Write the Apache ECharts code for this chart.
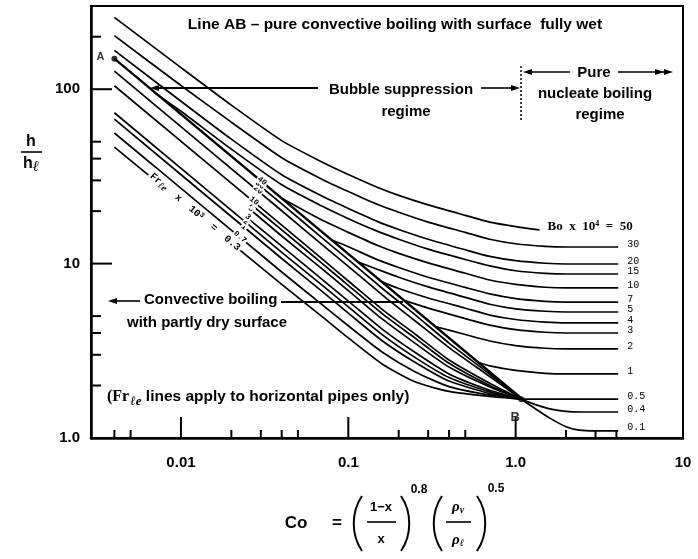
<!DOCTYPE html>
<html>
<head>
<meta charset="utf-8">
<script src="https://cdn.jsdelivr.net/npm/echarts@6/dist/echarts.min.js"></script>
<style>
html, body { margin: 0; padding: 0; background: #fff; }
#box { width: 698px; height: 559px; }
</style>
</head>
<body>
<div id="box"></div>
<script>
// ---- data: [Co, h/hl] ----
var lineAB = [[0.004, 149.6], [1.08, 1.69]];
var pointAB = [[0.004, 149.6], [1.08, 1.67]];

var boValues = ['50', '30', '20', '15', '10', '7', '5', '4', '3', '2', '1', '0.5', '0.4', '0.1'];
var boCurves = [
    [[0.004, 258], [0.01, 133], [0.02, 81], [0.04, 50.7], [0.07, 38.1], [0.1, 32.4], [0.15, 27.3], [0.2, 24.6], [0.3, 21.7], [0.5, 18.9], [0.7, 17.3], [1.0, 16.3], [1.39, 15.6]],
    [[0.004, 203], [0.01, 105], [0.02, 64.7], [0.04, 40.5], [0.07, 30.4], [0.1, 25.9], [0.15, 21.8], [0.2, 19.7], [0.3, 17.3], [0.5, 15.1], [0.7, 13.8], [1.0, 13.0], [1.5, 12.57], [2, 12.45], [4.1, 12.45]],
    [[0.004, 167], [0.01, 85.3], [0.02, 51.7], [0.04, 32.3], [0.07, 24.3], [0.1, 20.7], [0.15, 17.4], [0.2, 15.7], [0.3, 13.8], [0.5, 12.0], [0.7, 11.0], [1.0, 10.4], [1.5, 10.05], [2, 9.95], [4.1, 9.95]],
    [[0.007, 95.2], [0.01, 74.7], [0.02, 45.3], [0.04, 28.3], [0.07, 21.3], [0.1, 18.1], [0.15, 15.3], [0.2, 13.8], [0.3, 12.1], [0.5, 10.55], [0.7, 9.7], [1.0, 9.1], [1.5, 8.8], [2, 8.72], [4.1, 8.72]],
    [[0.04, 23.7], [0.07, 17.7], [0.1, 15.1], [0.15, 12.7], [0.2, 11.45], [0.3, 10.1], [0.5, 8.8], [0.7, 8.05], [1.0, 7.6], [1.5, 7.32], [2, 7.25], [4.1, 7.25]],
    [[0.08, 13.6], [0.1, 12.5], [0.15, 10.5], [0.2, 9.5], [0.3, 8.35], [0.5, 7.3], [0.7, 6.7], [1.0, 6.3], [1.5, 6.08], [2, 6.02], [4.1, 6.02]],
    [[0.115, 10.2], [0.15, 9.25], [0.2, 8.35], [0.3, 7.35], [0.5, 6.4], [0.7, 5.85], [1.0, 5.5], [1.5, 5.33], [2, 5.28], [4.1, 5.28]],
    [[0.16, 7.83], [0.2, 7.2], [0.3, 6.35], [0.5, 5.55], [0.7, 5.07], [1.0, 4.78], [1.5, 4.62], [2, 4.57], [4.1, 4.57]],
    [[0.215, 6.15], [0.3, 5.56], [0.5, 4.84], [0.7, 4.44], [1.0, 4.18], [1.5, 4.04], [2, 4.0], [4.1, 4.0]],
    [[0.33, 4.36], [0.5, 3.92], [0.7, 3.6], [1.0, 3.39], [1.5, 3.27], [2, 3.24], [4.1, 3.24]],
    [[0.6, 2.71], [0.7, 2.59], [1.0, 2.44], [1.5, 2.35], [2, 2.33], [4.1, 2.33]],
    [[1.08, 1.67], [1.5, 1.67], [4.1, 1.67]],
    [[1.08, 1.67], [1.3, 1.56], [1.6, 1.47], [2, 1.42], [2.5, 1.41], [4.1, 1.41]],
    [[1.08, 1.67], [1.3, 1.48], [1.6, 1.3], [2, 1.16], [2.4, 1.11], [3, 1.1], [4.1, 1.1]]
];

var frValues = ['0.3', '0.7', '1', '2', '3', '5', '7', '10', '20', '30', '40'];
var frCurves = [
    [[0.004, 46.6], [0.04, 7.6], [0.07, 4.95], [0.1, 3.75], [0.16, 2.65], [0.25, 2.1], [0.4, 1.85], [0.7, 1.73], [1.08, 1.67]],
    [[0.004, 56.1], [0.04, 8.95], [0.07, 5.8], [0.1, 4.4], [0.16, 3.1], [0.25, 2.4], [0.4, 1.97], [0.7, 1.76], [1.08, 1.67]],
    [[0.004, 67.3], [0.04, 10.7], [0.07, 6.9], [0.1, 5.2], [0.16, 3.6], [0.25, 2.72], [0.4, 2.12], [0.7, 1.8], [1.08, 1.67]],
    [[0.004, 73.3], [0.04, 11.6], [0.07, 7.5], [0.1, 5.65], [0.16, 3.9], [0.25, 2.9], [0.4, 2.22], [0.7, 1.84], [1.08, 1.67]],
    [[0.0247, 18.4], [0.04, 12.6], [0.07, 8.1], [0.1, 6.1], [0.16, 4.2], [0.25, 3.1], [0.4, 2.33], [0.7, 1.88], [1.08, 1.67]],
    [[0.0258, 20.5], [0.04, 14.4], [0.07, 9.3], [0.1, 7.0], [0.16, 4.8], [0.25, 3.5], [0.4, 2.55], [0.7, 1.96], [1.08, 1.67]],
    [[0.0264, 21.7], [0.04, 15.6], [0.07, 10.0], [0.1, 7.5], [0.16, 5.15], [0.25, 3.75], [0.4, 2.68], [0.7, 2.0], [1.08, 1.67]],
    [[0.004, 104.7], [0.04, 16.6], [0.07, 10.6], [0.1, 7.95], [0.16, 5.45], [0.25, 3.95], [0.4, 2.8], [0.7, 2.06], [1.08, 1.67]],
    [[0.004, 127], [0.04, 20.1], [0.07, 12.8], [0.1, 9.65], [0.16, 6.6], [0.25, 4.7], [0.4, 3.3], [0.7, 2.25], [1.08, 1.67]],
    [[0.0294, 28.1], [0.04, 22.0], [0.07, 14.0], [0.1, 10.55], [0.16, 7.2], [0.25, 5.1], [0.4, 3.5], [0.7, 2.32], [1.08, 1.67]]
];
// where each Fr label sits on the label column (pixels)
var frLabelPos = [[195, 212], [240, 237], [244, 227], [246, 222], [248, 217], [251, 209], [252, 205], [254, 201], [258, 190], [260, 185], [262, 181]];

var xMajorTicks = [0.01, 0.1, 1];
var xMinorTicks = [0.004, 0.005, 0.02, 0.03, 0.04, 0.05, 0.2, 0.3, 0.4, 0.5, 2, 3, 4];
var yMajorTicks = [10, 100];
var yMinorTicks = [2, 3, 4, 5, 20, 30, 40, 50, 200];
var xTickLabels = {'0.01': '0.01', '0.1': '0.1', '1': '1.0', '10': '10'};
var yTickLabels = {'1': '1.0', '10': '10', '100': '100'};

var X_MIN = 0.0029, X_MAX = 10, Y_MIN = 1, Y_MAX = 300;

window.onload = function () {
    var myChart = echarts.init(document.getElementById('box'));
    var SANS = '"Liberation Sans", Arial, sans-serif';
    var MONO = '"Liberation Mono", "DejaVu Sans Mono", monospace';
    var SERIF = '"Liberation Serif", serif';

    var curveStyle = {color: '#000', width: 1.7};
    var series = [];

    series.push({
        type: 'line', data: lineAB, showSymbol: false, silent: true,
        lineStyle: {color: '#000', width: 2.3}
    });

    boCurves.forEach(function (c, i) {
        var txt = i === 0 ? 'Bo  x  10{s|4}  =  50' : boValues[i];
        series.push({
            type: 'line', data: c, showSymbol: false, silent: true,
            smooth: 0.2,
            lineStyle: curveStyle,
            endLabel: {
                show: true, formatter: txt, color: '#000',
                fontFamily: i === 0 ? SERIF : MONO,
                fontSize: i === 0 ? 13 : 10, fontWeight: i === 0 ? 'bold' : 'normal',
                distance: i === 0 ? 8 : 9, offset: [0, -3],
                rich: {s: {fontSize: 8, verticalAlign: 'top', padding: [0, 0, 6, 0], fontFamily: SERIF}}
            }
        });
    });

    frCurves.forEach(function (c) {
        series.push({
            type: 'line', data: c, showSymbol: false, silent: true,
            smooth: 0.2,
            lineStyle: curveStyle
        });
    });

    // points A and B
    series.push({
        type: 'scatter', symbolSize: 6, silent: true, z: 5,
        itemStyle: {color: '#000'},
        label: {show: true, color: '#000', fontFamily: SANS, fontWeight: 'bold', fontSize: 11,
            formatter: function (p) { return p.dataIndex === 0 ? 'A' : 'B'; }},
        data: [
            {value: pointAB[0], label: {position: 'left', offset: [-2, -2]}},
            {value: pointAB[1], label: {position: 'bottom', offset: [-6, 4], fontSize: 13}}
        ]
    });

    // inside tick marks, drawn through the axes
    function tickSeries(values, isX, len) {
        return {
            type: 'custom', silent: true, z: 4,
            data: values.map(function (v) { return isX ? [v, Y_MIN] : [X_MIN, v]; }),
            renderItem: function (params, api) {
                var p = api.coord([api.value(0), api.value(1)]);
                var shape = isX ? {x1: p[0], y1: p[1], x2: p[0], y2: p[1] - len}
                                : {x1: p[0], y1: p[1], x2: p[0] + len, y2: p[1]};
                return {type: 'line', shape: shape, style: {stroke: '#000', lineWidth: 2}};
            }
        };
    }
    series.push(tickSeries(xMajorTicks, true, 21));
    series.push(tickSeries(xMinorTicks, true, 8));
    series.push(tickSeries(yMajorTicks, false, 21));
    series.push(tickSeries(yMinorTicks, false, 10));

    function fmt(map) {
        return function (v) { return map[String(+(+v).toPrecision(3))] || ''; };
    }

    var option = {
        animation: false,
        backgroundColor: '#fff',
        grid: {left: 91, right: 15, top: 6, bottom: 121, show: true, borderColor: '#000', borderWidth: 2},
        xAxis: {
            type: 'log', min: X_MIN, max: X_MAX, logBase: 10,
            axisLine: {lineStyle: {color: '#000', width: 2.5}},
            axisTick: {show: false}, splitLine: {show: false},
            axisLabel: {formatter: fmt(xTickLabels), color: '#000', fontFamily: SANS, fontWeight: 'bold', fontSize: 15, margin: 17}
        },
        yAxis: {
            type: 'log', min: Y_MIN, max: Y_MAX, logBase: 10,
            axisLine: {lineStyle: {color: '#000', width: 2.5}},
            axisTick: {show: false}, splitLine: {show: false},
            axisLabel: {formatter: fmt(yTickLabels), color: '#000', fontFamily: SANS, fontWeight: 'bold', fontSize: 15, margin: 11}
        },
        series: series
    };
    myChart.setOption(option);

    // ---- annotations ----
    var g = [];
    function txt(x, y, text, font, align) {
        g.push({type: 'text', x: x, y: y, z: 20, style: {text: text, font: font, fill: '#000', textAlign: align || 'center', textVerticalAlign: 'middle'}});
    }
    function seg(x1, y1, x2, y2, w, dash) {
        g.push({type: 'line', z: 20, shape: {x1: x1, y1: y1, x2: x2, y2: y2}, style: {stroke: '#000', lineWidth: w || 1.6, lineDash: dash || null}});
    }
    function head(x, y, dir) {
        // small filled arrowhead pointing left (dir=-1) or right (dir=1)
        g.push({type: 'polygon', z: 20, shape: {points: [[x, y], [x - dir * 9, y - 3], [x - dir * 9, y + 3]]}, style: {fill: '#000'}});
    }
    var B15 = 'bold 15px ' + SANS;

    txt(395, 25, 'Line AB \u2013 pure convective boiling with surface  fully wet', 'bold 15.5px ' + SANS);

    txt(401, 90, 'Bubble suppression', B15);
    txt(406, 112, 'regime', B15);
    seg(158, 88, 318, 88, 2);
    head(150, 88, -1);
    seg(481, 88, 512, 88, 1.6);
    head(520, 88, 1);
    seg(521, 66, 521, 120, 1.5, [2, 2]);

    txt(594, 73, 'Pure', B15);
    seg(531, 72, 570, 72, 1.6);
    head(523, 72, -1);
    seg(618, 72, 664, 72, 1.6);
    head(664, 72, 1);
    head(673, 72, 1);
    txt(595, 94, 'nucleate boiling', B15);
    txt(600, 115, 'regime', B15);

    txt(144, 300, 'Convective boiling', B15, 'left');
    seg(116, 301, 140, 301, 1.6);
    head(108, 301, -1);
    seg(281, 302, 403, 302, 2);
    txt(127, 323, 'with partly dry surface', B15, 'left');

    g.push({type: 'text', x: 107, y: 397, z: 20, style: {
        text: '{a|(Fr}{b|\u2113e}{c| lines apply to horizontal pipes only)}',
        textVerticalAlign: 'middle', fill: '#000',
        rich: {
            a: {font: 'bold 16px ' + SERIF, fill: '#000'},
            b: {font: 'bold italic 13px ' + SERIF, fill: '#000', padding: [9, 0, 0, 1]},
            c: {font: 'bold 15.5px ' + SANS, fill: '#000'}
        }
    }});

    // Fr labels written into gaps of the Fr lines
    var rot = -0.70;
    g.push({type: 'text', x: frLabelPos[0][0], y: frLabelPos[0][1], rotation: rot, z: 20, style: {
        text: '{a|Fr}{b|\u2113e}{a|  x  10}{s|3}{a|  =  0.3}',
        textAlign: 'center', textVerticalAlign: 'middle', backgroundColor: '#fff', padding: [1, 2],
        rich: {
            a: {font: 'bold 10px ' + MONO, fill: '#000'},
            b: {font: 'bold italic 10px ' + SERIF, fill: '#000', padding: [4, 0, 0, 0]},
            s: {font: 'bold 7px ' + MONO, fill: '#000', padding: [0, 0, 4, 0]}
        }
    }});
    for (var i = 1; i < frValues.length; i++) {
        g.push({type: 'text', x: frLabelPos[i][0], y: frLabelPos[i][1], rotation: rot, z: 19, style: {
            text: frValues[i], font: 'bold 8px ' + MONO, fill: '#000',
            textAlign: 'center', textVerticalAlign: 'middle', backgroundColor: '#fff', padding: [0, 1]
        }});
    }

    // y axis title h / h_l
    txt(31, 142, 'h', 'bold 16px ' + SANS);
    seg(21, 152, 42, 152, 1.6);
    g.push({type: 'text', x: 31, y: 164, z: 20, style: {
        text: '{a|h}{b|\u2113}', textAlign: 'center', textVerticalAlign: 'middle',
        rich: {a: {font: 'bold 16px ' + SANS, fill: '#000'}, b: {font: 'bold italic 15px ' + SERIF, fill: '#000', padding: [6, 0, 0, 0]}}
    }});

    // x axis title  Co = ((1-x)/x)^0.8 (rho_v/rho_l)^0.5
    function paren(x, left) {
        var d = left ? -11 : 11;
        g.push({type: 'bezierCurve', z: 20, shape: {x1: x, y1: 496, x2: x, y2: 551, cpx1: x + d, cpy1: 512, cpx2: x + d, cpy2: 535}, style: {stroke: '#000', lineWidth: 2, fill: null}});
    }
    txt(296, 523, 'Co', 'bold 17px ' + SANS);
    txt(337, 523, '=', 'bold 17px ' + SANS);
    paren(362, true);
    txt(381, 507, '1\u2212x', 'bold 13px ' + SANS);
    seg(367, 522, 396, 522, 1.6);
    txt(381, 539, 'x', 'bold 13px ' + SANS);
    paren(401, false);
    txt(419, 490, '0.8', 'bold 12px ' + SANS);
    paren(442, true);
    g.push({type: 'text', x: 458, y: 507, z: 20, style: {text: '{a|\u03c1}{b|v}', textAlign: 'center', textVerticalAlign: 'middle',
        rich: {a: {font: 'bold italic 15px ' + SERIF, fill: '#000'}, b: {font: 'bold italic 10px ' + SERIF, fill: '#000', padding: [6, 0, 0, 0]}}}});
    seg(446, 522, 471, 522, 1.6);
    g.push({type: 'text', x: 458, y: 540, z: 20, style: {text: '{a|\u03c1}{b|\u2113}', textAlign: 'center', textVerticalAlign: 'middle',
        rich: {a: {font: 'bold italic 15px ' + SERIF, fill: '#000'}, b: {font: 'bold italic 10px ' + SERIF, fill: '#000', padding: [6, 0, 0, 0]}}}});
    paren(477, false);
    txt(496, 489, '0.5', 'bold 12px ' + SANS);

    myChart.setOption({graphic: g});
};
</script>
</body>
</html>
